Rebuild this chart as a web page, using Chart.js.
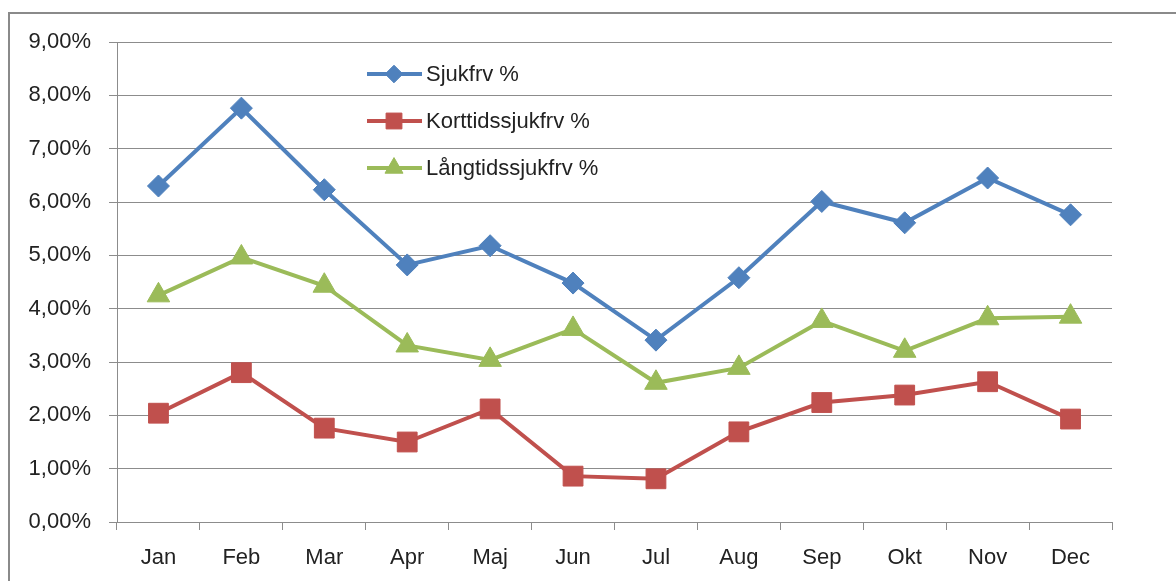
<!DOCTYPE html>
<html>
<head>
<meta charset="utf-8">
<script src="https://cdn.jsdelivr.net/npm/chart.js@4/dist/chart.umd.min.js"></script>
<style>
  html, body { margin: 0; padding: 0; background: #fff; }
  #wrap { width: 1176px; height: 581px; }
</style>
</head>
<body>
<div id="wrap"><canvas id="chart" width="1176" height="581"></canvas></div>
<script>
const months = ['Jan', 'Feb', 'Mar', 'Apr', 'Maj', 'Jun', 'Jul', 'Aug', 'Sep', 'Okt', 'Nov', 'Dec'];
const sjukfrv = [6.30, 7.76, 6.23, 4.82, 5.18, 4.48, 3.41, 4.58, 6.01, 5.61, 6.45, 5.76];
const korttids = [2.04, 2.80, 1.76, 1.50, 2.12, 0.86, 0.81, 1.69, 2.24, 2.38, 2.63, 1.93];
const langtids = [4.25, 4.96, 4.43, 3.31, 3.04, 3.62, 2.61, 2.89, 3.77, 3.21, 3.82, 3.85];

const FONT = "'Liberation Sans', Arial, sans-serif";
const GRID = '#8c8c8c';

// legend drawn inside the plot like the Excel original
const legendInside = {
    id: 'legendInside',
    afterDatasetsDraw(chart) {
        const ctx = chart.ctx;
        const rows = [74, 121, 168];
        chart.data.datasets.forEach((ds, i) => {
            const y = rows[i];
            ctx.save();
            ctx.strokeStyle = ds.borderColor;
            ctx.lineWidth = 4;
            ctx.beginPath();
            ctx.moveTo(367, y);
            ctx.lineTo(422, y);
            ctx.stroke();
            ctx.fillStyle = ds.borderColor;
            ctx.strokeStyle = ds.borderColor;
            ctx.lineWidth = 1;
            Chart.helpers.drawPoint(ctx, {
                pointStyle: ds.pointStyle,
                radius: ds.pointRadius * 0.8,
                borderWidth: 1,
                rotation: 0
            }, 394, y);
            ctx.fillStyle = '#222';
            ctx.font = '22px ' + FONT;
            ctx.textBaseline = 'middle';
            ctx.fillText(ds.label, 426, y + 1);
            ctx.restore();
        });
    }
};

const frame = {
    id: 'frame',
    beforeDraw(chart) {
        const ctx = chart.ctx;
        ctx.save();
        ctx.fillStyle = '#fff';
        ctx.fillRect(0, 0, chart.width, chart.height);
        ctx.strokeStyle = '#8a8a8a';
        ctx.lineWidth = 2;
        ctx.beginPath();
        ctx.moveTo(9, chart.height + 5);
        ctx.lineTo(9, 13);
        ctx.lineTo(chart.width + 5, 13);
        ctx.stroke();
        ctx.restore();
    }
};

function series(label, data, color, style, radius) {
    return {
        label: label,
        data: data,
        borderColor: color,
        backgroundColor: color,
        borderWidth: 4,
        pointStyle: style,
        pointRadius: radius,
        pointHoverRadius: radius,
        pointBorderWidth: 1,
        pointBackgroundColor: color,
        tension: 0
    };
}

new Chart(document.getElementById('chart'), {
    type: 'line',
    data: {
        labels: months,
        datasets: [
            series('Sjukfrv %', sjukfrv, '#4F81BD', 'rectRot', 11),
            series('Korttidssjukfrv %', korttids, '#C0504D', 'rect', 14),
            series('Långtidssjukfrv %', langtids, '#9BBB59', 'triangle', 13)
        ]
    },
    options: {
        responsive: false,
        animation: false,
        layout: { padding: { left: 0, right: 64, top: 42, bottom: 0 } },
        plugins: {
            legend: { display: false },
            tooltip: { enabled: false }
        },
        scales: {
            x: {
                offset: true,
                grid: {
                    offset: true,
                    drawOnChartArea: false,
                    drawTicks: true,
                    tickLength: 8,
                    color: GRID
                },
                border: { color: GRID, width: 1 },
                ticks: {
                    color: '#222',
                    padding: 15,
                    maxRotation: 0,
                    font: { family: FONT, size: 22 }
                },
                afterFit(scale) { scale.height = 59; }
            },
            y: {
                min: 0,
                max: 9,
                grid: {
                    color: GRID,
                    tickLength: 8,
                    drawTicks: true
                },
                border: { color: GRID, width: 1 },
                ticks: {
                    stepSize: 1,
                    color: '#222',
                    padding: 18,
                    font: { family: FONT, size: 22 },
                    callback: (v) => v.toFixed(2).replace('.', ',') + '%'
                },
                afterFit(scale) { scale.width = 117; }
            }
        }
    },
    plugins: [frame, legendInside]
});
</script>
</body>
</html>
